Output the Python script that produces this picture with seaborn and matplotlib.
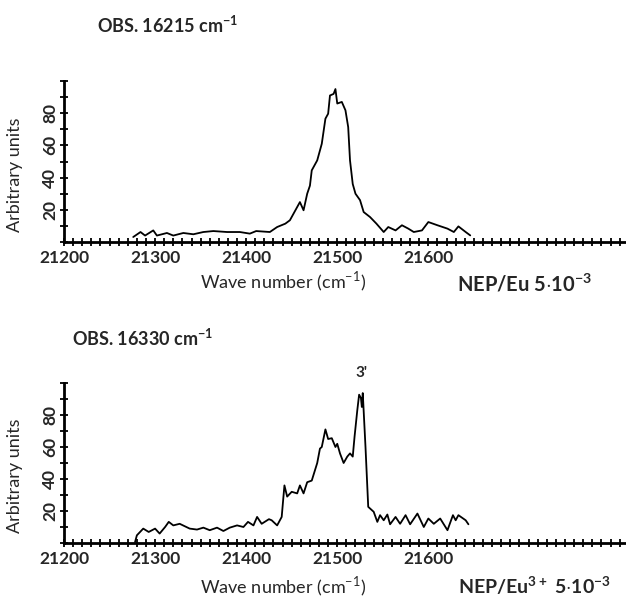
import numpy as np
import pandas as pd
import matplotlib
matplotlib.use("Agg")
import matplotlib.pyplot as plt
from matplotlib.ticker import MultipleLocator, FixedLocator
import seaborn as sns

# ---- data ----
wn_top = [21276, 21284, 21289, 21298, 21302, 21313, 21320, 21331, 21342, 21353,
          21364, 21379, 21393, 21404, 21411, 21426, 21434, 21443, 21448, 21452,
          21459, 21463, 21467, 21470, 21472, 21478, 21483, 21487, 21490, 21492,
          21496, 21498, 21500, 21505, 21509, 21512, 21514, 21517, 21520, 21525,
          21529, 21536, 21543, 21551, 21556, 21564, 21571, 21578, 21584, 21593,
          21600, 21610, 21621, 21628, 21633, 21641, 21646]
int_top = [3.1, 6.2, 4.0, 7.2, 4.0, 5.6, 4.0, 5.6, 4.8, 6.2,
           6.8, 6.2, 6.2, 5.2, 6.8, 6.2, 9.3, 11.4, 13.5, 17.6,
           24.8, 19.7, 30.0, 35.0, 44.5, 50.7, 61.0, 76.6, 79.7, 91.0,
           92.0, 95.0, 86.0, 87.0, 81.8, 71.4, 50.7, 36.0, 30.0, 26.0,
           18.6, 15.5, 11.4, 6.2, 9.3, 7.2, 10.4, 8.3, 6.2, 7.2,
           12.4, 10.4, 8.3, 6.2, 9.7, 6.2, 4.1]

wn_bot = [21278, 21280, 21287, 21293, 21300, 21305, 21311, 21315, 21320, 21327,
          21338, 21346, 21353, 21360, 21368, 21375, 21382, 21390, 21397, 21402,
          21408, 21412, 21417, 21425, 21428, 21434, 21439, 21442, 21445, 21450,
          21456, 21459, 21463, 21467, 21472, 21478, 21481, 21483, 21487, 21490,
          21494, 21498, 21500, 21503, 21507, 21511, 21514, 21517, 21519, 21522,
          21524, 21526, 21527, 21528, 21531, 21534, 21540, 21544, 21547, 21551,
          21555, 21558, 21564, 21569, 21575, 21580, 21588, 21595, 21600, 21606,
          21613, 21621, 21627, 21630, 21633, 21641, 21644]
int_bot = [0.6, 4.8, 9.0, 6.9, 9.0, 5.9, 10.0, 13.2, 11.0, 12.0,
           9.0, 8.4, 9.6, 8.0, 9.6, 7.5, 9.6, 11.0, 10.0, 13.2,
           11.0, 16.3, 12.0, 14.9, 14.2, 11.0, 16.3, 36.0, 29.0, 32.0,
           31.0, 36.0, 31.0, 38.0, 39.0, 50.0, 59.0, 60.0, 71.0, 65.0,
           65.5, 60.0, 62.0, 56.0, 50.0, 54.0, 56.0, 54.0, 66.5, 83.0,
           92.7, 90.6, 85.0, 93.7, 60.0, 22.6, 19.5, 13.2, 17.4, 14.2,
           17.8, 11.7, 16.3, 12.0, 17.4, 11.7, 18.4, 10.0, 15.3, 12.0,
           15.3, 8.0, 17.4, 14.2, 17.4, 14.2, 11.7]

x_ticks = [21200, 21300, 21400, 21500, 21600]
y_ticks = [20, 40, 60, 80]

titles = ["OBS. 16215 cm$^{\\mathbf{-1}}$", "OBS. 16330 cm$^{\\mathbf{-1}}$"]
samples = ["NEP/Eu 5$\\cdot$10$^{\\mathbf{-3}}$",
           "NEP/Eu$^{\\mathbf{3+}}$ 5$\\cdot$10$^{\\mathbf{-3}}$"]

sns.set_style("ticks")
plt.rcParams['font.family'] = ['Lato', 'DejaVu Sans']
plt.rcParams['mathtext.fontset'] = 'custom'
plt.rcParams['mathtext.rm'] = 'Lato'
plt.rcParams['mathtext.bf'] = 'Lato:bold'

fig = plt.figure(figsize=(6.26, 6.0), dpi=100)
ax1 = fig.add_axes([64/626, 1-242/600, 562/626, 161/600])
ax2 = fig.add_axes([64/626, 1-543/600, 562/626, 160/600])

df_top = pd.DataFrame({"wn": wn_top, "I": int_top})
df_bot = pd.DataFrame({"wn": wn_bot, "I": int_bot})

xlab_y = {0: (242-282)/161, 1: (543-587)/160}
for i, (ax, df) in enumerate(((ax1, df_top), (ax2, df_bot))):
    sns.lineplot(data=df, x="wn", y="I", ax=ax, color="black", linewidth=1.3,
                 sort=False)
    ax.set_xlim(21200, 21817)
    ax.set_ylim(0, 100)
    for s in ("top", "right"):
        ax.spines[s].set_visible(False)
    for s in ("left", "bottom"):
        ax.spines[s].set_linewidth(2.0)
        ax.spines[s].set_color("black")
    ax.xaxis.set_major_locator(FixedLocator(x_ticks))
    ax.xaxis.set_minor_locator(MultipleLocator(10))
    ax.yaxis.set_major_locator(FixedLocator(y_ticks))
    ax.yaxis.set_minor_locator(MultipleLocator(10))
    ax.tick_params(which="both", direction="inout", length=6, width=1.3,
                   color="black")
    ax.tick_params(axis="x", labelsize=12.5, pad=3)
    ax.tick_params(axis="y", labelsize=12.5, pad=1)
    for lab in ax.get_xticklabels():
        lab.set_fontweight("bold")
    for lab in ax.get_yticklabels():
        lab.set_fontweight("bold")
        lab.set_rotation(90)
        lab.set_va("center")
    ax.set_xlabel("Wave number (cm$^{-1}$)", fontsize=13, va="center")
    ax.set_ylabel("Arbitrary units", fontsize=13, va="center")
    ax.xaxis.set_label_coords((283-64)/562, xlab_y[i])
    ax.yaxis.set_label_coords(-(64-15)/562, 0.42)

ax1.text(97/626, 1-25/600, titles[0], transform=fig.transFigure,
         fontsize=13, fontweight="bold", va="center", ha="left")
ax2.text(72/626, 1-338/600, titles[1], transform=fig.transFigure,
         fontsize=13, fontweight="bold", va="center", ha="left")
fig.text(457/626, 1-284/600, samples[0], fontsize=14.5, fontweight="bold",
         va="center", ha="left")
fig.text(458/626, 1-586/600, samples[1], fontsize=14, fontweight="bold",
         va="center", ha="left")
ax2.text(21527, 102, "3'", fontsize=11, fontweight="bold", ha="center",
         va="bottom", clip_on=False)

fig.savefig("out.png", dpi=100)
